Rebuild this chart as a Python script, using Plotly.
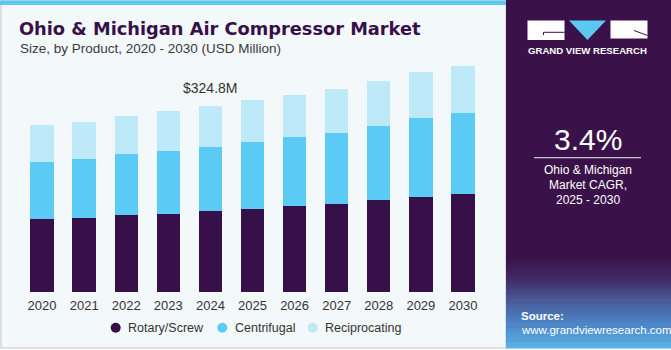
import plotly.graph_objects as go

years = ["2020", "2021", "2022", "2023", "2024", "2025", "2026", "2027", "2028", "2029", "2030"]
rotary_screw = [126.9, 129.2, 133.9, 136.7, 140.9, 145.3, 149.6, 154.2, 160.1, 166.4, 171.1]
centrifugal = [100.1, 102.5, 107.0, 110.0, 112.8, 116.6, 120.5, 124.0, 130.3, 136.9, 140.9]
reciprocating = [64.6, 65.1, 66.9, 68.8, 71.1, 72.5, 73.9, 75.8, 78.1, 80.8, 82.6]
series_names = ["Rotary/Screw", "Centrifugal", "Reciprocating"]
series_colors = ["#37104a", "#5bcbf6", "#bde9f9"]
highlight_index = 4
highlight_label = "$324.8M"
cagr_value = "3.4%"
cagr_text = ["Ohio & Michigan", "Market CAGR,", "2025 - 2030"]

W, H = 671, 350
L, R, T, B = 21, 187, 60, 58
PW, PH = W - L - R, H - T - B


def px(x):
    return (x - L) / PW


def py(y):
    return (H - B - y) / PH


FONT = "Liberation Sans, Arial, sans-serif"
fig = go.Figure()
for vals, name, col in zip([rotary_screw, centrifugal, reciprocating], series_names, series_colors):
    fig.add_trace(go.Bar(x=years, y=vals, name=name, marker=dict(color=col, line=dict(width=0)),
                         showlegend=False, hoverinfo="x+y+name"))

totals = [a + b + c for a, b, c in zip(rotary_screw, centrifugal, reciprocating)]

shapes = []
# left panel background and border
shapes.append(dict(type="rect", xref="paper", yref="paper", x0=px(1), x1=px(506), y0=py(348), y1=py(1),
                   fillcolor="#f3f8fb", line=dict(color="#d4d6d8", width=1.5), layer="below"))
shapes.append(dict(type="rect", xref="paper", yref="paper", x0=px(0), x1=px(506), y0=py(5), y1=py(0.5),
                   fillcolor="#5bc8f0", line=dict(width=0), layer="below"))
# right panel
shapes.append(dict(type="rect", xref="paper", yref="paper", x0=px(506), x1=px(671), y0=py(348), y1=py(0),
                   fillcolor="#3a1249", line=dict(width=0), layer="below"))
# bottom gradient of right panel
stops = [(258, (58, 18, 73)), (283, (66, 50, 110)), (300, (74, 90, 152)), (322, (76, 130, 196)), (348, (90, 180, 232))]
for i in range(len(stops) - 1):
    y0, c0 = stops[i]
    y1, c1 = stops[i + 1]
    n = 10
    for k in range(n):
        f = (k + 0.5) / n
        c = tuple(int(c0[j] + (c1[j] - c0[j]) * f) for j in range(3))
        ya = y0 + (y1 - y0) * k / n
        yb = y0 + (y1 - y0) * (k + 1) / n + 0.6
        shapes.append(dict(type="rect", xref="paper", yref="paper", x0=px(506), x1=px(671), y0=py(yb), y1=py(ya),
                           fillcolor="rgb(%d,%d,%d)" % c, line=dict(width=0), layer="below"))
# logo
shapes.append(dict(type="rect", xref="paper", yref="paper", x0=px(527.5), x1=px(564.5), y0=py(40), y1=py(20.5),
                   fillcolor="white", line=dict(width=0), layer="below"))
shapes.append(dict(type="path", xref="paper", yref="paper",
                   path="M %f,%f L %f,%f L %f,%f Z" % (px(569), py(20.5), px(606), py(20.5), px(587.5), py(40)),
                   fillcolor="#5bc8f0", line=dict(width=0), layer="below"))
shapes.append(dict(type="rect", xref="paper", yref="paper", x0=px(610.5), x1=px(647.5), y0=py(38.5), y1=py(20.5),
                   fillcolor="white", line=dict(width=0), layer="below"))
shapes.append(dict(type="path", xref="paper", yref="paper",
                   path="M %f,%f L %f,%f L %f,%f" % (px(564.5), py(32.3), px(543.5), py(32.3), px(543.5), py(35)),
                   line=dict(color="#3a1249", width=1), layer="below"))
shapes.append(dict(type="line", xref="paper", yref="paper", x0=px(634), x1=px(647.5), y0=py(30.5), y1=py(35.5),
                   line=dict(color="#3a1249", width=1), layer="below"))
# CAGR separator line
shapes.append(dict(type="line", xref="paper", yref="paper", x0=px(534), x1=px(641), y0=py(157.7), y1=py(157.7),
                   line=dict(color="#c9c2d0", width=1.2)))

annotations = []


def txt(text, x, y, size, color, xanchor="left", bold=False, family=FONT, weight=None):
    f = dict(size=size, color=color, family=family)
    if weight is not None:
        f["weight"] = weight
    annotations.append(dict(text=("<b>%s</b>" % text) if bold else text, xref="paper", yref="paper",
                            x=px(x), y=py(y), xanchor=xanchor, yanchor="middle", showarrow=False, font=f))


txt("Ohio & Michigan Air Compressor Market", 17, 28.5, 17.8, "#37104a", family="DejaVu Sans, sans-serif",
    weight="bold")
txt("Size, by Product, 2020 - 2030 (USD Million)", 17.5, 48, 13.5, "#3a3a3a")
txt("GRAND VIEW RESEARCH", 587.5, 50.7, 9.6, "white", xanchor="center", bold=True)
txt(cagr_value, 587.5, 139, 30, "white", xanchor="center")
for i, line in enumerate(cagr_text):
    txt(line, 587.5, 170 + 15 * i, 12, "white", xanchor="center")
txt("Source:", 518.5, 316, 11.5, "white", bold=True)
txt("www.grandviewresearch.com", 518.5, 330, 11.5, "white")

# legend (manual, circular markers)
legend_marker_x = [115.7, 222.3, 312.7]
legend_y = 327.7
for name, col, mx in zip(series_names, series_colors, legend_marker_x):
    r = 5
    shapes.append(dict(type="circle", xref="paper", yref="paper", x0=px(mx - r), x1=px(mx + r),
                       y0=py(legend_y + r), y1=py(legend_y - r), fillcolor=col, line=dict(width=0)))
    txt(name, mx + 10.3, legend_y, 12.5, "#333333")

annotations.append(dict(text=highlight_label, x=highlight_index, y=totals[highlight_index], xref="x", yref="y",
                        yanchor="bottom", yshift=8, showarrow=False, font=dict(size=14, color="#333333", family=FONT)))

fig.update_layout(
    width=W, height=H, margin=dict(l=L, r=R, t=T, b=B, pad=0),
    paper_bgcolor="white", plot_bgcolor="rgba(0,0,0,0)",
    barmode="stack", bargap=0.445,
    font=dict(family=FONT, color="#333333"),
    xaxis=dict(type="category", range=[-0.5, 10.5], showgrid=False, zeroline=False, showline=False,
               ticks="outside", ticklen=1, tickcolor="rgba(0,0,0,0)",
               tickfont=dict(size=13, color="#333333", family=FONT)),
    yaxis=dict(range=[0, 405], visible=False),
    shapes=shapes, annotations=annotations, showlegend=False,
)
fig.write_html("out.html")
